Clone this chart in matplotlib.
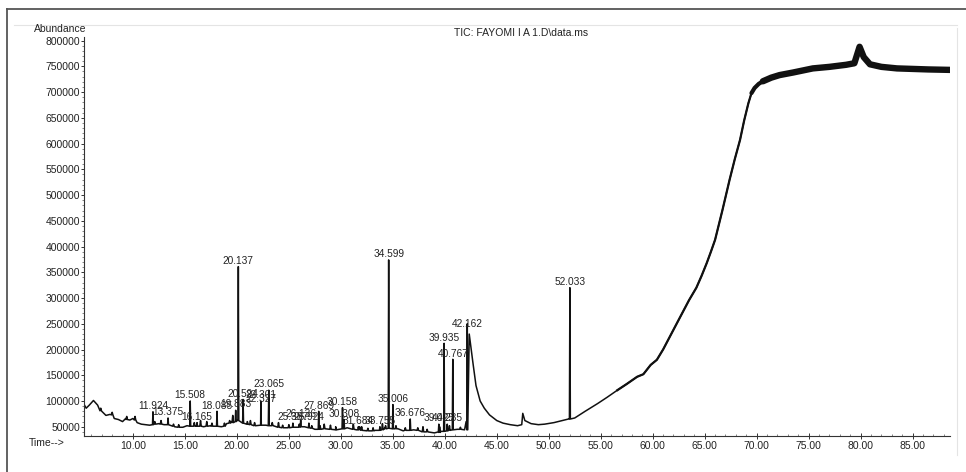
import numpy as np
import matplotlib.pyplot as plt
from matplotlib.ticker import MultipleLocator, FormatStrFormatter
from matplotlib.lines import Line2D

plt.rcParams["font.family"] = ["Liberation Sans", "DejaVu Sans"]

TITLE = "TIC: FAYOMI I A 1.D\\data.ms"

# baseline of the TIC trace (min, abundance)
base_t = [5.2, 5.5, 5.8, 6.2, 6.6, 7.0, 7.4, 7.8, 8.2, 8.6, 9.0, 9.3, 9.7, 10.0, 10.4,
          10.8, 11.2, 11.6, 12.5, 13.0, 14.0, 14.8, 15.2, 16.0, 16.8, 17.5, 18.5, 19.0,
          19.5, 20.0, 21.0, 21.8, 22.8, 23.5, 24.5, 25.5, 26.5, 27.5, 28.5, 29.5, 30.6,
          31.5, 32.5, 33.3, 34.2, 35.5, 36.0, 37.0, 38.0, 39.0, 39.6, 40.5, 41.2, 41.9,
          42.05, 42.35, 42.7, 43.0, 43.4, 43.8, 44.3, 45.0, 45.6, 46.3, 47.0, 47.4, 47.5,
          47.7, 48.3, 49.0, 49.6, 50.5, 51.5, 51.9, 52.5, 53.5, 54.7, 55.6, 56.6, 57.5,
          58.5, 59.1, 59.8, 60.4, 61.0, 61.65, 62.3, 62.9, 63.5, 64.2, 64.7, 65.2, 65.6,
          66.0, 66.7, 67.4, 67.9, 68.4, 68.8, 69.2, 69.5, 69.8, 70.2, 70.6, 71.4, 72.2,
          73.5, 75.4, 77.0, 78.6, 79.4, 79.9, 80.3, 80.9, 82.0, 83.5, 85.0, 86.5, 88.9]
base_y = [97000, 86000, 92000, 101000, 92000, 80000, 72000, 74000, 66000, 64000, 60000,
          66000, 63000, 66000, 58000, 55000, 54000, 53000, 56000, 54000, 50000, 49000,
          52000, 52000, 50000, 52000, 50000, 56000, 60000, 62000, 55000, 52000, 53000,
          52000, 48000, 49000, 50000, 45000, 46000, 44000, 48000, 44000, 42000, 43000,
          47000, 46000, 42000, 44000, 40000, 38000, 41000, 44000, 45000, 44000, 60000,
          230000, 175000, 130000, 100000, 86000, 73000, 62000, 57000, 54000, 52000, 54000,
          76000, 62000, 56000, 54000, 55000, 58000, 63000, 65000, 67000, 80000, 95000,
          107000, 121000, 133000, 147000, 152000, 170000, 180000, 200000, 225000, 250000,
          273000, 296000, 320000, 343000, 368000, 390000, 413000, 470000, 530000, 570000,
          607000, 645000, 678000, 698000, 708000, 716000, 721000, 728000, 733000, 738000,
          746000, 749000, 753000, 756000, 788000, 768000, 754000, 749000, 746000, 745000,
          744000, 743000]

# integrated peaks: retention time, apex, foot
peak_rt = [11.924, 13.375, 15.508, 16.165, 18.085, 19.883, 20.137, 20.594, 22.301,
           22.327, 23.065, 25.387, 26.136, 26.924, 27.869, 30.158, 30.308, 31.684,
           33.755, 34.599, 35.006, 36.676, 39.425, 40.235, 39.935, 40.767, 42.162, 52.033]
peak_h = [79000, 67000, 100000, 58000, 80000, 82000, 361000, 103000, 100000,
          92000, 121000, 57000, 63000, 57000, 80000, 87000, 64000, 50000,
          50000, 374000, 93000, 65000, 55000, 55000, 212000, 181000, 250000, 320000]
peak_foot = [54000, 54000, 51000, 51000, 51000, 60000, 62000, 57000, 53000,
             53000, 52000, 49000, 50000, 48000, 45000, 46000, 46000, 44000,
             43000, 47000, 46000, 43000, 40000, 42000, 41000, 44000, 44000, 65000]

# smaller unlabelled peaks
minor_rt = [6.9, 8.0, 9.4, 10.2, 12.1, 12.7, 13.9, 14.4, 15.9, 16.5, 17.1, 17.6, 18.8,
            19.3, 19.6, 21.0, 21.3, 21.7, 23.4, 24.0, 24.4, 25.0, 26.0, 27.2, 28.0,
            28.4, 29.0, 29.5, 31.2, 31.8, 32.0, 32.6, 33.1, 34.0, 34.3, 35.3, 36.2,
            37.4, 37.9, 38.3, 39.5, 40.45, 41.5]
minor_h = [86000, 78000, 70000, 70000, 60000, 62000, 55000, 54000, 58000, 62000, 60000,
           57000, 57000, 62000, 72000, 60000, 62000, 58000, 58000, 58000, 53000, 54000,
           55000, 52000, 52000, 55000, 53000, 50000, 55000, 50000, 50000, 47000, 48000,
           56000, 52000, 52000, 48000, 48000, 50000, 45000, 50000, 52000, 49000]
minor_foot = [81000, 73000, 64000, 63000, 55000, 55000, 51000, 49000, 51000, 51000, 51000,
              51000, 51000, 57000, 58000, 55000, 54000, 52000, 52000, 49000, 48000, 48000,
              49000, 47000, 45000, 46000, 45000, 44000, 45000, 44000, 43000, 42000, 42000,
              44000, 46000, 46000, 43000, 43000, 40000, 40000, 39000, 43000, 45000]


def build_trace():
    t = list(base_t)
    y = list(base_y)
    for rt, h, f in zip(peak_rt, peak_h, peak_foot):
        t += [rt - 0.045, rt, rt + 0.045]
        y += [f, h, f]
    for rt, h, f in zip(minor_rt, minor_h, minor_foot):
        t += [rt - 0.07, rt, rt + 0.07]
        y += [f, h, f]
    t = np.array(t)
    y = np.array(y)
    order = np.argsort(t)
    return t[order], y[order]


fig = plt.figure(figsize=(9.66, 4.72), dpi=100)
ax = fig.add_axes([84 / 966, 1 - 436 / 472, 866 / 966, 399 / 472])

t, y = build_trace()
ax.plot(t, y, color="#111111", lw=1.1)
rise = (t >= 56) & (t <= 70.6)
ax.plot(t[rise], y[rise], color="#111111", lw=1.6)
knee = (t >= 69.3) & (t <= 71.4)
ax.plot(t[knee], y[knee], color="#111111", lw=3.0, solid_capstyle="round")
plateau = t >= 70.6
ax.plot(t[plateau], y[plateau], color="#111111", lw=4.6, solid_capstyle="round",
        solid_joinstyle="round")

for rt, h in zip(peak_rt, peak_h):
    dy = -11000 if rt == 42.162 else 1500
    ax.text(rt, h + dy, f"{rt:.3f}", ha="center", va="bottom", fontsize=7.3, color="#222222")

ax.set_xlim(5.29, 88.6)
ax.set_ylim(32000, 807000)
ax.spines["top"].set_visible(False)
ax.spines["right"].set_visible(False)
for s in ("left", "bottom"):
    ax.spines[s].set_linewidth(0.8)
    ax.spines[s].set_color("#333333")

ax.xaxis.set_minor_locator(MultipleLocator(1))
ax.xaxis.set_major_formatter(FormatStrFormatter("%.2f"))
ax.set_xticks(np.arange(10, 90, 5))
ax.yaxis.set_minor_locator(MultipleLocator(10000))
ax.set_yticks(np.arange(50000, 850000, 50000))
ax.tick_params(axis="both", which="major", labelsize=7.5, length=3, width=0.7,
               colors="#333333", labelcolor="#222222")
ax.tick_params(axis="x", which="major", direction="inout", length=4, pad=1.5)
ax.tick_params(axis="y", which="major", direction="out", length=2.5, pad=0.5)
ax.tick_params(axis="both", which="minor", length=1.5, width=0.5, colors="#555555")
ax.tick_params(axis="x", which="minor", direction="in")

fig.text(521 / 966, 1 - 33 / 472, TITLE, ha="center", va="center", fontsize=7.5, color="#222222")
fig.text(86 / 966, 1 - 29 / 472, "Abundance", ha="right", va="center", fontsize=7.5, color="#222222")
fig.text(29 / 966, 1 - 443 / 472, "Time-->", ha="left", va="center", fontsize=7.5, color="#222222")

# printout frame
fig.add_artist(Line2D([7 / 966, 7 / 966], [0, 1 - 9 / 472], color="#555555", lw=1.3))
fig.add_artist(Line2D([7 / 966, 1], [1 - 9 / 472, 1 - 9 / 472], color="#555555", lw=1.3))
fig.add_artist(Line2D([14 / 966, 957 / 966], [1 - 25 / 472, 1 - 25 / 472], color="#e4e4e4", lw=0.8))
fig.add_artist(Line2D([957 / 966, 957 / 966], [1 - 455 / 472, 1 - 28 / 472], color="#e4e4e4", lw=0.8))

fig.savefig("out.png", dpi=100)
